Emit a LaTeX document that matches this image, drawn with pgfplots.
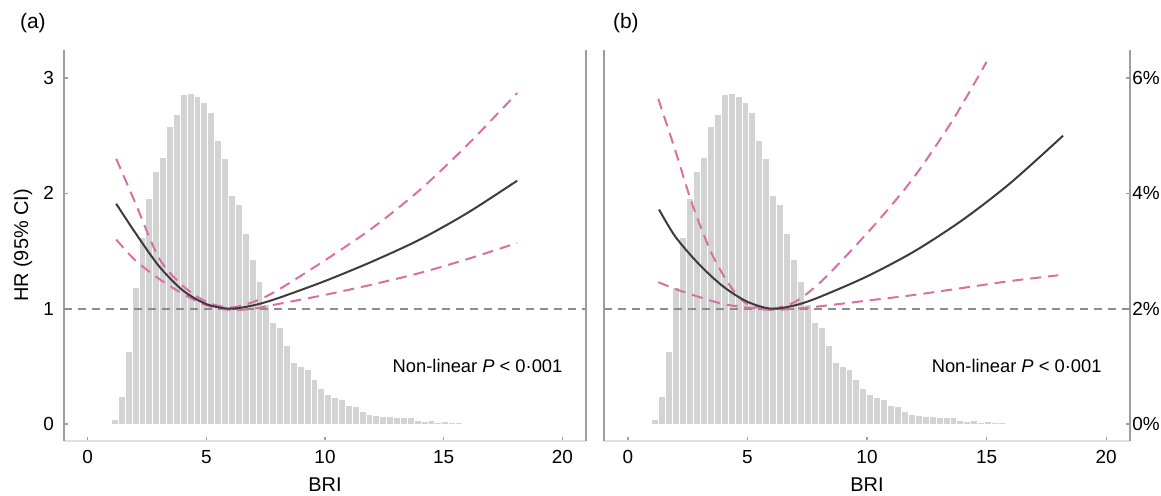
\documentclass[border=0pt]{standalone}
\usepackage{fontspec}
\setmainfont{Liberation Sans}
\usepackage{pgfplots}
\pgfplotsset{compat=1.18}
\usepackage{pgfplotstable}
\usetikzlibrary{calc}

\definecolor{histgray}{HTML}{D3D3D3}
\definecolor{cipink}{HTML}{D870A6}
\definecolor{hrline}{HTML}{3C3C3C}
\definecolor{refgray}{HTML}{8C8C8C}
\definecolor{framegray}{HTML}{9E9E9E}

% BRI distribution, % of participants per bin (left bin edges)
\pgfplotstableread{
x pct
1.00 0.08
1.29 0.48
1.58 1.26
1.87 2.36
2.16 3.24
2.45 3.92
2.74 4.38
3.03 4.62
3.32 5.16
3.61 5.36
3.90 5.72
4.19 5.74
4.48 5.68
4.77 5.58
5.06 5.40
5.35 4.92
5.64 4.60
5.93 3.96
6.22 3.80
6.51 3.30
6.80 2.86
7.09 2.48
7.38 2.08
7.67 1.76
7.96 1.68
8.25 1.36
8.54 1.06
8.83 1.00
9.12 0.94
9.41 0.78
9.70 0.62
9.99 0.52
10.28 0.46
10.57 0.42
10.86 0.32
11.15 0.31
11.44 0.22
11.73 0.17
12.02 0.15
12.31 0.136
12.60 0.124
12.89 0.116
13.18 0.110
13.47 0.116
13.76 0.070
14.05 0.050
14.34 0.056
14.63 0.036
14.92 0.040
15.21 0.034
15.50 0.024
15.79 0.010
16.08 0.008
16.37 0.004
16.66 0.012
16.95 0
}\histdata

\pgfplotsset{
  rcs/.style={
    scale only axis,
    height=195.5bp,
    xmin=-1, xmax=21,
    ymin=-0.147, ymax=3.243,
    xtick={0,5,10,15,20},
    ytick={0,1,2,3},
    axis x line=bottom,
    tick align=inside,
    major tick length=2bp,
    tick style={framegray, line width=0.6bp},
    /pgf/number format/assume math mode=true,
    ticklabel style={font=\fontsize{9.5}{11}\selectfont},
    xticklabel shift=1.2bp,
    xlabel={BRI},
    xlabel style={font=\fontsize{11}{13}\selectfont},
    every axis x label/.style={at={(rel axis cs:0.5,0)}, yshift=-22bp, anchor=center},
  },
  lines/.style={
    axis line style={-},
    every outer x axis line/.style={-},
    every outer y axis line/.style={-},
    x axis line style={-, draw=black!12, line width=0.6bp},
    y axis line style={-, draw=framegray, line width=0.7bp},
  },
  hist/.style={ybar interval, fill=histgray, draw=white, line width=0.45bp},
  hr/.style={hrline, line width=1bp, smooth, no marks},
  ci/.style={cipink, line width=1bp, smooth, no marks, dash pattern=on 5.5bp off 3.5bp},
  ref/.style={refgray, line width=0.8bp, dash pattern=on 4bp off 3bp, no marks},
}

\begin{document}
\begin{tikzpicture}
\path[use as bounding box] (0,0) rectangle (580.5bp,248bp);

% ---- (a)
\begin{axis}[rcs, name=a, at={(32bp,27.5bp)}, anchor=south west, width=261bp,
    axis y line=left, tick align=inside, lines,
    yticklabel shift=1.5bp,
    ylabel={HR (95\% CI)},
    ylabel style={font=\fontsize{10.8}{13}\selectfont},
    every axis y label/.style={at={(rel axis cs:0,0.5)}, xshift=-20.5bp, rotate=90, anchor=center},
]
\addplot[hist] table[x=x, y expr=\thisrow{pct}/2] {\histdata};
\addplot[ref] coordinates {(-1,1) (21,1)};
\addplot[ci] coordinates {
  (1.2,2.30) (2,1.92) (3,1.44) (4,1.20) (5,1.06) (6,1.01) (7,1.06) (8,1.16)
  (10,1.42) (12,1.70) (14,2.03) (16,2.42) (18.1,2.87)};
\addplot[ci] coordinates {
  (1.2,1.60) (2,1.42) (3,1.26) (4,1.13) (5,1.03) (6,0.99) (7,1.00) (8,1.04)
  (10,1.12) (12,1.21) (14,1.31) (16,1.43) (18.1,1.57)};
\addplot[hr] coordinates {
  (1.2,1.91) (2,1.66) (3,1.37) (4,1.16) (5,1.04) (6,1.00) (7,1.03) (8,1.09)
  (10,1.24) (12,1.41) (14,1.60) (16,1.83) (18.1,2.11)};
\end{axis}
\draw[framegray, line width=0.7bp] (a.south east) -- (a.north east);
\node[anchor=base west, font=\fontsize{10.5}{12}\selectfont] at ($(a.north west)+(-25.5bp,10.5bp)$) {(a)};

% ---- (b)
\begin{axis}[rcs, name=b, at={(302bp,27.5bp)}, anchor=south west, width=263bp,
    axis y line=right, tick align=inside, lines,
    yticklabels={0\%,2\%,4\%,6\%},
    yticklabel style={inner xsep=1bp},
]
\addplot[hist] table[x=x, y expr=\thisrow{pct}/2] {\histdata};
\addplot[ref] coordinates {(-1,1) (21,1)};
\addplot[ci] coordinates {
  (1.27,2.82) (2,2.36) (2.7,1.90) (3.5,1.48) (4.3,1.19) (5,1.04) (6,1.00) (7,1.06)
  (8,1.22) (9,1.43) (10.5,1.77) (12,2.15) (13.6,2.64) (15,3.14)};
\addplot[ci] coordinates {
  (1.27,1.23) (2,1.17) (3,1.10) (4,1.04) (5,1.01) (6,0.99) (7,1.00) (8,1.02)
  (10,1.07) (12,1.12) (14,1.18) (16,1.24) (18,1.29)};
\addplot[hr] coordinates {
  (1.3,1.86) (2,1.62) (3,1.38) (4,1.19) (5,1.06) (6,1.00) (7,1.03) (8,1.10)
  (10,1.28) (12,1.50) (14,1.77) (16,2.09) (18.2,2.50)};
\end{axis}
\draw[framegray, line width=0.7bp] (b.south west) -- (b.north west);
\node[anchor=base west, font=\fontsize{10.5}{12}\selectfont] at ($(b.north west)+(1bp,10.5bp)$) {(b)};

% annotations, placed in panel units
\path (a.south west) ++(20.3*11.864bp+11.864bp, 0.647*57.67bp) node[anchor=east, font=\fontsize{9.2}{11}\selectfont] {Non-linear \textit{P} < 0·001};
\path (b.south west) ++(20.1*11.955bp+11.955bp, 0.647*57.67bp) node[anchor=east, font=\fontsize{9.2}{11}\selectfont] {Non-linear \textit{P} < 0·001};
\end{tikzpicture}
\end{document}
